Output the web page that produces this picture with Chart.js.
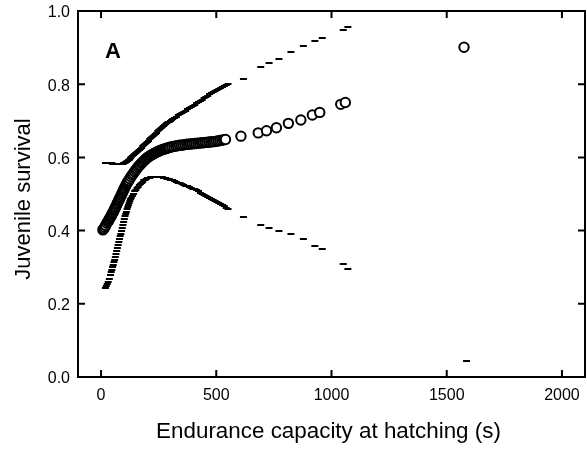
<!DOCTYPE html>
<html>
<head>
<meta charset="utf-8">
<script src="https://cdn.jsdelivr.net/npm/chart.js@4"></script>
<style>
  html, body { margin: 0; padding: 0; background: #fff; }
  #wrap { width: 587px; height: 452px; }
</style>
</head>
<body>
<div id="wrap"><canvas id="c" width="587" height="452"></canvas></div>
<script>
// ---- data ----
const panelLabel = "A";
const xTitle = "Endurance capacity at hatching (s)";
const yTitle = "Juvenile survival";
const xTickValues = [0, 500, 1000, 1500, 2000];
const yTickValues = [0.0, 0.2, 0.4, 0.6, 0.8, 1.0];

const endurance = [
  8,12,16,20,25,
  30,33,36,39,42,45,48,51,54,57,60,63,66,69,72,75,78,81,84,87,90,93,96,99,102,105,108,111,114,117,120,
  125,130,135,140,145,150,155,160,165,170,175,180,185,190,195,
  200,205,210,215,220,225,230,235,240,245,250,255,260,265,270,275,280,285,290,295,300,
  308,316,324,332,340,348,356,364,372,380,388,396,404,412,420,428,436,444,452,460,468,476,484,492,500,508,516,524,532,540,
  607,682,718,761,813,867,917,949,1040,1060,1575];

const survival = [
  .402,.405,.409,.414,.420,
  .424,.428,.431,.435,.438,.441,.445,.449,.452,.456,.460,.464,.468,.472,.476,.480,.484,.488,.492,.496,.500,.504,.508,.512,.516,.520,.524,.527,.531,.534,.537,
  .542,.547,.552,.556,.561,.565,.569,.573,.577,.580,.584,.587,.590,.593,.596,
  .599,.601,.603,.605,.607,.609,.611,.6125,.614,.6155,.617,.6185,.620,.621,.622,.623,.624,.625,.626,.627,.628,
  .629,.630,.631,.632,.633,.633,.634,.635,.636,.636,.637,.637,.638,.638,.639,.639,.640,.640,.641,.641,.642,.642,.643,.643,.644,.645,.646,.647,.648,.649,
  .658,.667,.673,.681,.693,.702,.716,.723,.745,.750,.901];

const upperCI = [
  .586,.586,.585,.585,.585,
  .584,.584,.584,.583,.583,.583,.583,.582,.582,.582,.582,.582,.582,.582,.582,.582,.582,.583,.583,.584,.585,.586,.587,.588,.590,.591,.593,.594,.596,.598,.600,
  .603,.606,.609,.612,.615,.618,.621,.624,.627,.630,.633,.636,.639,.643,.646,
  .649,.652,.656,.659,.662,.665,.668,.672,.675,.678,.681,.684,.686,.689,.691,.694,.696,.698,.700,.702,.704,
  .708,.711,.715,.718,.721,.724,.727,.731,.734,.738,.741,.744,.748,.751,.754,.758,.762,.765,.768,.772,.775,.778,.781,.784,.787,.789,.792,.795,.797,.800,
  .815,.848,.857,.868,.887,.905,.918,.927,.948,.957,null];

const lowerCI = [
  .242,.248,.254,.260,.268,
  .280,.286,.293,.300,.307,.314,.321,.328,.336,.344,.352,.360,.368,.376,.384,.392,.400,.408,.416,.424,.432,.439,.446,.452,.459,.465,.470,.475,.480,.485,.489,
  .495,.501,.507,.512,.516,.520,.524,.528,.531,.534,.537,.539,.541,.543,.544,
  .545,.5455,.546,.5465,.547,.547,.547,.547,.547,.5465,.546,.5455,.545,.544,.543,.542,.541,.540,.539,.538,.537,
  .535,.533,.531,.529,.527,.525,.523,.521,.519,.517,.515,.513,.510,.507,.504,.501,.498,.495,.492,.489,.486,.483,.480,.477,.475,.472,.469,.466,.463,.460,
  .4375,.415,.408,.399,.390,.376,.358,.349,.310,.294,.043];

// ---- build datasets ----
const toPts = ys => endurance.map((x, i) => ({x: x, y: ys[i]})).filter(p => p.y !== null && p.y !== undefined);

// dash marker: short horizontal bar, sitting slightly right of the point as in the original
function makeDash() {
  const c = document.createElement('canvas');
  c.width = 14; c.height = 2;
  const g = c.getContext('2d');
  g.fillStyle = '#000';
  g.fillRect(6, 0, 7, 2);
  return c;
}
const dash = makeDash();

const font = '"Liberation Sans", Arial, Helvetica, sans-serif';

const frameTicks = {
  id: 'frameTicks',
  afterDatasetsDraw(chart) {
    const {ctx, chartArea: a, scales: {x, y}} = chart;
    ctx.save();
    ctx.strokeStyle = '#000';
    ctx.lineWidth = 2;
    ctx.strokeRect(a.left, a.top, a.right - a.left, a.bottom - a.top);
    const L = 7;
    ctx.beginPath();
    xTickValues.forEach(v => {
      const px = x.getPixelForValue(v);
      ctx.moveTo(px, a.bottom); ctx.lineTo(px, a.bottom - L);
      ctx.moveTo(px, a.top); ctx.lineTo(px, a.top + L);
    });
    yTickValues.forEach(v => {
      const py = y.getPixelForValue(v);
      ctx.moveTo(a.left, py); ctx.lineTo(a.left + L, py);
      ctx.moveTo(a.right, py); ctx.lineTo(a.right - L, py);
    });
    ctx.stroke();
    ctx.fillStyle = '#000';
    // panel letter
    ctx.font = 'bold 22px ' + font;
    ctx.textAlign = 'left';
    ctx.textBaseline = 'alphabetic';
    ctx.fillText(panelLabel, a.left + 27, a.top + 47);
    // x-axis title
    ctx.font = '22.4px ' + font;
    ctx.textAlign = 'center';
    ctx.fillText(xTitle, (a.left + a.right) / 2 - 3, a.bottom + 61);
    // y-axis title (rotated)
    ctx.translate(24, (a.top + a.bottom) / 2 + 5);
    ctx.rotate(-Math.PI / 2);
    ctx.font = '22px ' + font;
    ctx.textAlign = 'center';
    ctx.textBaseline = 'middle';
    ctx.fillText(yTitle, 0, 0);
    ctx.restore();
  }
};

new Chart(document.getElementById('c'), {
  type: 'scatter',
  data: {
    datasets: [
      {
        label: 'survival',
        data: toPts(survival),
        pointStyle: 'circle',
        pointRadius: 4.7,
        pointBorderWidth: 2,
        pointBorderColor: '#000',
        pointBackgroundColor: '#fff',
        order: 0
      },
      { label: 'upper', data: toPts(upperCI), pointStyle: dash, order: 1 },
      { label: 'lower', data: toPts(lowerCI), pointStyle: dash, order: 1 }
    ]
  },
  options: {
    responsive: false,
    animation: false,
    events: [],
    layout: { autoPadding: false, padding: { top: 11, right: 2, left: 0, bottom: 0 } },
    plugins: { legend: { display: false }, tooltip: { enabled: false } },
    scales: {
      x: {
        type: 'linear',
        min: -100, max: 2100,
        afterBuildTicks: s => { s.ticks = xTickValues.map(v => ({value: v})); },
        afterFit: s => { s.height = 75; s.paddingLeft = 0; s.paddingRight = 0; },
        grid: { display: false, drawTicks: false },
        border: { display: false },
        ticks: { color: '#000', font: { family: font, size: 16 }, padding: 9, maxRotation: 0, autoSkip: false, callback: v => String(v) },
        title: { display: false, text: xTitle }
      },
      y: {
        type: 'linear',
        min: 0, max: 1,
        afterBuildTicks: s => { s.ticks = yTickValues.map(v => ({value: v})); },
        afterFit: s => { s.width = 78; s.paddingTop = 0; s.paddingBottom = 0; },
        grid: { display: false, drawTicks: false },
        border: { display: false },
        ticks: { color: '#000', font: { family: font, size: 16 }, padding: 8, labelOffset: 2, callback: v => Number(v).toFixed(1) },
        title: { display: false, text: yTitle }
      }
    }
  },
  plugins: [frameTicks]
});
</script>
</body>
</html>
